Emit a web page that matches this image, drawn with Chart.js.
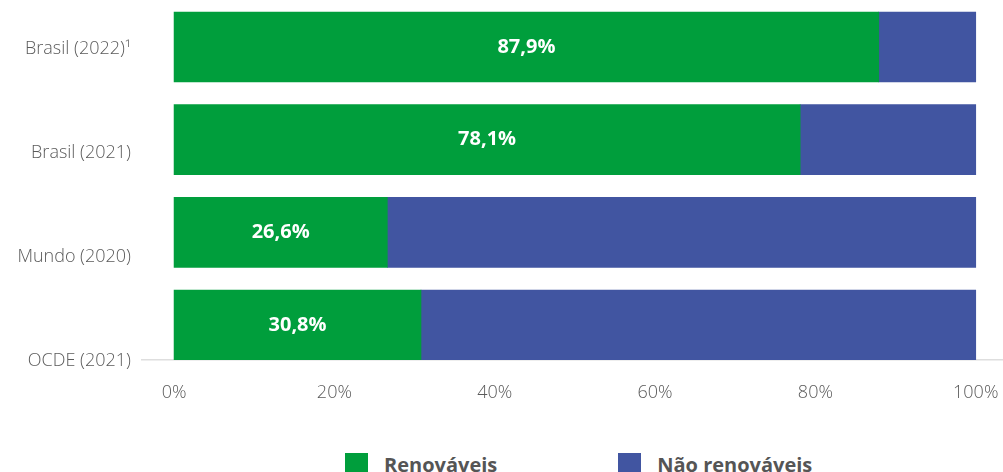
<!DOCTYPE html>
<html>
<head>
<meta charset="utf-8">
<script src="https://cdn.jsdelivr.net/npm/chart.js@4"></script>
<style>
  html, body { margin: 0; padding: 0; background: #fff; width: 1003px; height: 472px; overflow: hidden; }
  #wrap { position: relative; width: 1003px; height: 472px; }
  #chart { position: absolute; left: 0; top: 0; }
  #legend { position: absolute; left: 345px; top: 451px; display: flex; align-items: center;
            font-family: "Open Sans", Lato, sans-serif; font-weight: 700; font-size: 20px; color: #555; }
  .item { display: flex; align-items: center; margin-right: 121px; white-space: nowrap; }
  .box { width: 23px; height: 23px; margin-right: 16px; flex: none; }
</style>
</head>
<body>
<div id="wrap">
  <canvas id="chart" width="1003" height="430"></canvas>
  <div id="legend"></div>
</div>
<script>
const categories = ['Brasil (2022)\u00B9', 'Brasil (2021)', 'Mundo (2020)', 'OCDE (2021)'];
const seriesNames = ['Renováveis', 'Não renováveis'];
const renovaveis = [87.9, 78.1, 26.6, 30.8];
const naoRenovaveis = [12.1, 21.9, 73.4, 69.2];
const xTickValues = [0, 20, 40, 60, 80, 100];
const colors = ['#009e3c', '#4155a1'];

const toPoints = arr => arr.map((v, i) => ({ x: v, y: i }));
const FONT = '"Open Sans", Lato, sans-serif';

const valueLabels = {
  id: 'valueLabels',
  afterDatasetsDraw(chart) {
    const ctx = chart.ctx;
    const meta = chart.getDatasetMeta(0);
    ctx.save();
    ctx.fillStyle = '#ffffff';
    ctx.font = '700 20px ' + FONT;
    ctx.textAlign = 'center';
    ctx.textBaseline = 'middle';
    meta.data.forEach((el, i) => {
      const p = el.getCenterPoint();
      ctx.fillText(renovaveis[i].toFixed(1).replace('.', ',') + '%', p.x, p.y);
    });
    ctx.restore();
  }
};

const htmlLegend = {
  id: 'htmlLegend',
  afterUpdate(chart) {
    const el = document.getElementById('legend');
    el.innerHTML = '';
    const items = chart.options.plugins.legend.labels.generateLabels(chart);
    items.forEach((item, idx) => {
      const d = document.createElement('div');
      d.className = 'item';
      if (idx === items.length - 1) d.style.marginRight = '0';
      const b = document.createElement('span');
      b.className = 'box';
      b.style.background = item.fillStyle;
      const t = document.createElement('span');
      t.textContent = item.text;
      d.appendChild(b); d.appendChild(t);
      el.appendChild(d);
    });
  }
};

const ctx = document.getElementById('chart').getContext('2d');
new Chart(ctx, {
  type: 'bar',
  data: {
    datasets: [
      { label: seriesNames[0], data: toPoints(renovaveis), backgroundColor: colors[0], borderWidth: 0, barThickness: 70, yAxisID: 'y' },
      { label: seriesNames[1], data: toPoints(naoRenovaveis), backgroundColor: colors[1], borderWidth: 0, barThickness: 70, yAxisID: 'y' }
    ]
  },
  options: {
    indexAxis: 'y',
    responsive: false,
    animation: false,
    layout: { padding: { top: 0, right: 0, bottom: 0, left: 0 } },
    plugins: {
      legend: { display: false },
      tooltip: { enabled: false }
    },
    scales: {
      x: {
        type: 'linear',
        position: 'bottom',
        stacked: true,
        offset: false,
        min: -4,
        max: 103.4,
        grid: { display: false, drawTicks: false },
        border: { display: true, color: '#dedede', width: 1.5 },
        afterBuildTicks(scale) { scale.ticks = xTickValues.map(v => ({ value: v })); },
        afterFit(scale) { scale.height = 70; scale.paddingLeft = 0; scale.paddingRight = 0; },
        ticks: {
          padding: 22,
          color: '#5a5a5a',
          font: { family: FONT, size: 18, weight: 300 },
          callback: v => v + '%'
        }
      },
      y: {
        type: 'linear',
        display: false,
        stacked: true,
        offset: false,
        reverse: true,
        min: -0.507,
        max: 3.378
      },
      yl: {
        type: 'linear',
        position: 'left',
        offset: false,
        reverse: true,
        min: -0.466,
        max: 2.99,
        grid: { display: false, drawTicks: false },
        border: { display: false },
        afterBuildTicks(scale) { scale.ticks = categories.map((c, i) => ({ value: i })); },
        afterFit(scale) { scale.width = 142; scale.paddingTop = 0; scale.paddingBottom = 0; },
        ticks: {
          padding: 11,
          color: '#5a5a5a',
          font: { family: FONT, size: 18, weight: 300 },
          callback: v => categories[v]
        }
      }
    }
  },
  plugins: [valueLabels, htmlLegend]
});
</script>
</body>
</html>
